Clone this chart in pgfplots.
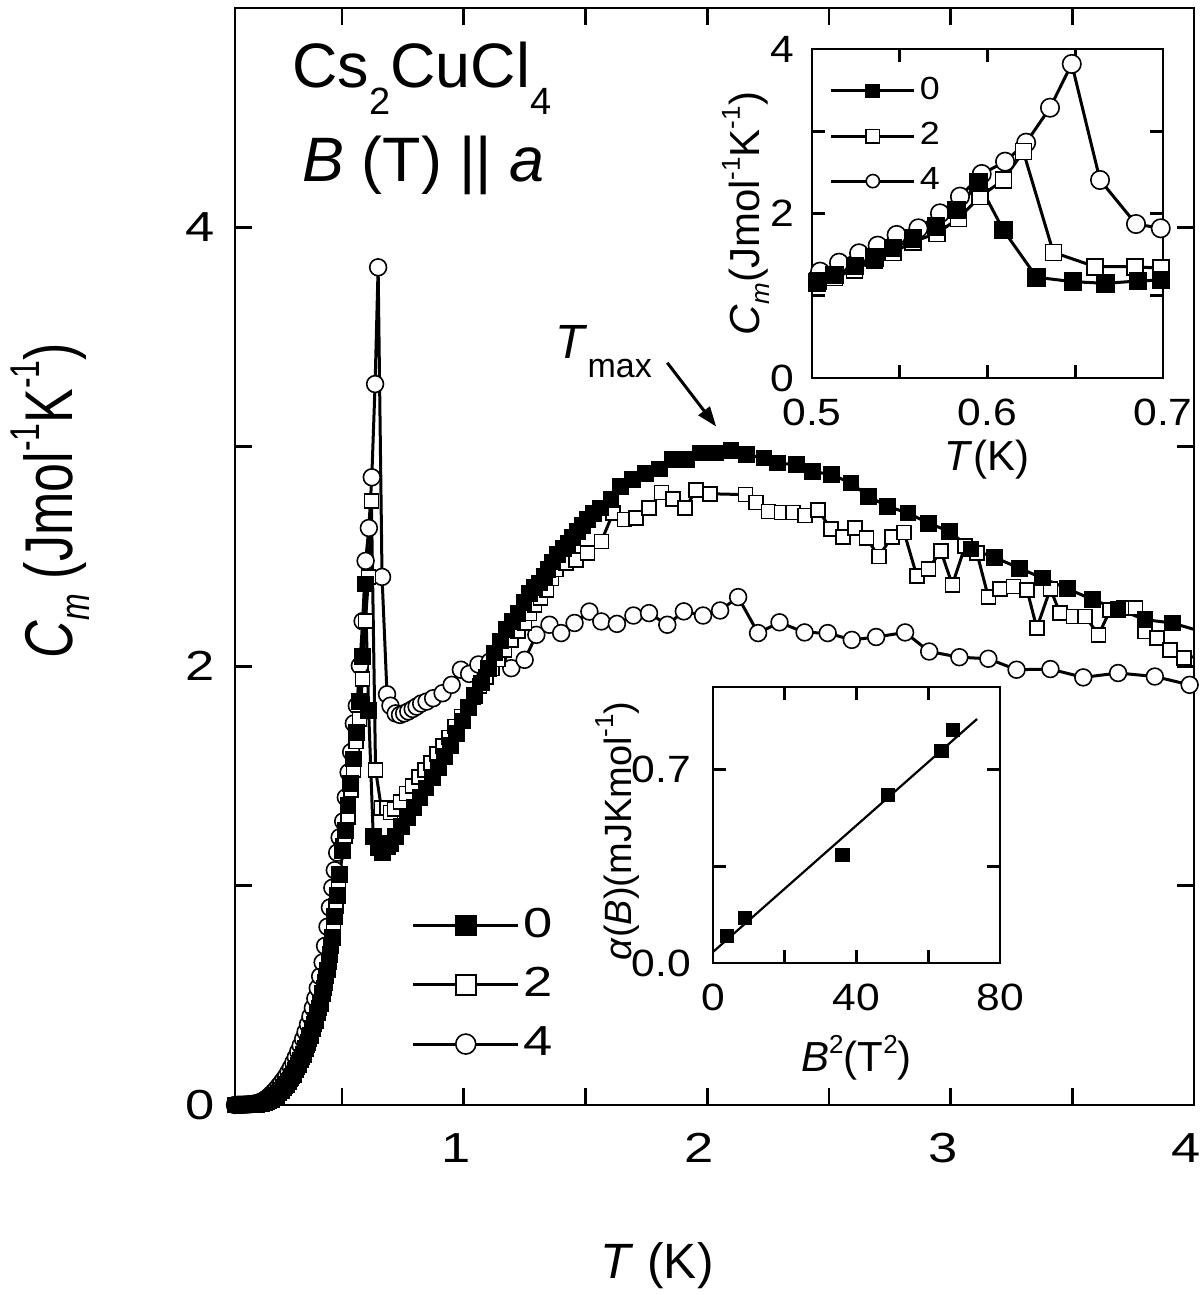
\documentclass[border=0pt]{standalone}
\usepackage{fontspec}
\setmainfont{Liberation Sans}
\usepackage{graphicx}
\usepackage{pgfplots}
\usepackage{pgfplotstable}
\pgfplotsset{compat=1.18}
\usetikzlibrary{arrows.meta}
\newcommand{\W}[1]{\scalebox{1.25}[1]{#1}}
\newcommand{\V}[1]{\scalebox{1.12}[1]{#1}}

\pgfplotstableread{
x y
0.06 0.000
0.07 0.000
0.08 0.000
0.09 0.001
0.10 0.001
0.11 0.001
0.12 0.002
0.13 0.002
0.14 0.003
0.15 0.004
0.16 0.005
0.17 0.007
0.18 0.010
0.19 0.014
0.20 0.019
0.21 0.026
0.22 0.034
0.23 0.044
0.24 0.055
0.25 0.067
0.26 0.080
0.27 0.094
0.28 0.108
0.29 0.123
0.30 0.140
0.31 0.160
0.32 0.182
0.33 0.205
0.34 0.230
0.35 0.257
0.36 0.285
0.37 0.316
0.38 0.350
0.39 0.385
0.40 0.422
0.41 0.463
0.42 0.508
0.43 0.558
0.44 0.615
0.45 0.685
0.46 0.765
0.47 0.860
0.48 0.955
0.49 1.050
0.503 1.159
0.5127 1.252
0.5245 1.365
0.5355 1.467
0.5463 1.577
0.5576 1.698
0.5705 1.840
0.5824 2.043
0.5948 2.375
0.609 1.799
0.628 1.224
0.6486 1.171
0.6673 1.151
0.6856 1.179
0.6987 1.191
0.720 1.225
0.745 1.270
0.770 1.310
0.795 1.355
0.820 1.400
0.845 1.445
0.870 1.490
0.895 1.540
0.920 1.590
0.945 1.640
0.970 1.695
0.995 1.750
1.020 1.810
1.045 1.865
1.073 1.923
1.100 1.990
1.127 2.060
1.150 2.115
1.175 2.166
1.200 2.205
1.223 2.242
1.247 2.290
1.270 2.333
1.290 2.357
1.311 2.379
1.330 2.410
1.346 2.440
1.366 2.475
1.386 2.508
1.408 2.535
1.428 2.561
1.448 2.588
1.468 2.614
1.489 2.641
1.509 2.668
1.533 2.695
1.560 2.721
1.605 2.759
1.645 2.820
1.693 2.850
1.748 2.880
1.804 2.899
1.859 2.941
1.915 2.941
1.971 2.972
2.034 2.972
2.098 2.984
2.161 2.964
2.233 2.949
2.289 2.926
2.368 2.918
2.432 2.888
2.511 2.873
2.591 2.835
2.662 2.774
2.742 2.728
2.825 2.698
2.909 2.652
2.996 2.614
3.084 2.534
3.179 2.497
3.282 2.447
3.377 2.402
3.481 2.353
3.584 2.303
3.688 2.260
3.799 2.212
3.910 2.197
4.006 2.166
}\tblzero

\pgfplotstableread{
x y
0.065 0.000
0.075 0.000
0.085 0.001
0.095 0.001
0.105 0.001
0.115 0.002
0.125 0.002
0.135 0.003
0.145 0.004
0.155 0.005
0.165 0.006
0.175 0.009
0.185 0.012
0.195 0.017
0.205 0.023
0.215 0.030
0.225 0.039
0.235 0.050
0.245 0.061
0.255 0.074
0.265 0.087
0.275 0.101
0.285 0.116
0.295 0.132
0.305 0.150
0.315 0.171
0.325 0.194
0.335 0.218
0.345 0.244
0.355 0.271
0.365 0.300
0.375 0.333
0.385 0.368
0.395 0.404
0.405 0.443
0.415 0.486
0.425 0.533
0.435 0.587
0.445 0.650
0.455 0.725
0.465 0.812
0.475 0.908
0.485 1.002
0.5035 1.180
0.5127 1.224
0.5241 1.313
0.5355 1.435
0.5463 1.528
0.5576 1.657
0.5711 1.759
0.5835 1.941
0.5957 2.205
0.6090 2.407
0.6204 2.752
0.6375 1.528
0.6613 1.353
0.6841 1.353
0.6987 1.334
0.715 1.350
0.740 1.380
0.765 1.420
0.790 1.455
0.815 1.495
0.840 1.528
0.865 1.560
0.890 1.600
0.915 1.635
0.940 1.675
0.965 1.725
0.990 1.770
1.015 1.815
1.040 1.860
1.065 1.910
1.090 1.950
1.115 1.990
1.140 2.030
1.168 2.075
1.195 2.120
1.222 2.160
1.250 2.197
1.270 2.240
1.291 2.280
1.315 2.310
1.339 2.348
1.360 2.400
1.380 2.440
1.420 2.470
1.462 2.485
1.509 2.516
1.565 2.569
1.613 2.698
1.661 2.668
1.708 2.675
1.761 2.721
1.812 2.792
1.860 2.762
1.910 2.721
1.955 2.804
2.011 2.786
2.158 2.782
2.201 2.747
2.252 2.706
2.305 2.701
2.352 2.701
2.403 2.686
2.456 2.713
2.508 2.625
2.559 2.589
2.607 2.630
2.654 2.584
2.705 2.500
2.758 2.589
2.809 2.610
2.861 2.412
2.909 2.443
2.960 2.526
3.007 2.371
3.060 2.549
3.108 2.516
3.155 2.315
3.203 2.353
3.259 2.364
3.314 2.348
3.354 2.174
3.410 2.353
3.449 2.242
3.505 2.227
3.553 2.227
3.608 2.143
3.656 2.257
3.712 2.265
3.759 2.265
3.799 2.158
3.847 2.128
3.902 2.075
3.958 2.037
4.006 2.044
}\tbltwo

\pgfplotstableread{
x y
0.06 0.000
0.07 0.001
0.08 0.001
0.09 0.001
0.10 0.002
0.11 0.0025
0.12 0.0035
0.13 0.0045
0.14 0.006
0.15 0.0085
0.16 0.012
0.17 0.0165
0.18 0.0225
0.19 0.030
0.20 0.039
0.21 0.0495
0.22 0.061
0.23 0.0735
0.24 0.087
0.25 0.101
0.26 0.1155
0.27 0.1315
0.28 0.150
0.29 0.171
0.30 0.1935
0.31 0.2175
0.32 0.2435
0.33 0.271
0.34 0.3005
0.35 0.333
0.36 0.3675
0.37 0.4035
0.38 0.4425
0.39 0.4855
0.40 0.533
0.41 0.5865
0.42 0.650
0.43 0.725
0.44 0.8125
0.45 0.900
0.46 0.990
0.47 1.070
0.48 1.150
0.49 1.220
0.5046 1.293
0.5154 1.402
0.5268 1.516
0.5374 1.609
0.5482 1.739
0.5606 1.820
0.5729 2.002
0.5843 2.205
0.5967 2.480
0.6100 2.630
0.6220 2.861
0.6356 3.286
0.6480 3.818
0.6641 2.407
0.6846 1.872
0.6987 1.820
0.7200 1.785
0.7380 1.778
0.7550 1.785
0.7720 1.794
0.7900 1.805
0.8060 1.816
0.8250 1.830
0.8470 1.839
0.8740 1.854
0.9130 1.877
0.9500 1.915
0.9880 1.984
1.0220 1.965
1.0600 2.008
1.1070 2.021
1.1480 2.060
1.1950 1.991
1.2500 2.029
1.2980 2.143
1.3520 2.189
1.4000 2.151
1.4550 2.197
1.5160 2.249
1.5650 2.204
1.6290 2.193
1.6970 2.231
1.7610 2.242
1.8360 2.189
1.9040 2.250
1.9830 2.231
2.0530 2.254
2.1270 2.315
2.2090 2.151
2.2970 2.200
2.4000 2.154
2.4950 2.151
2.5940 2.120
2.6940 2.133
2.8130 2.154
2.9120 2.067
3.0360 2.041
3.1550 2.034
3.2710 1.984
3.4100 1.987
3.5450 1.949
3.6880 1.969
3.8390 1.953
3.9820 1.915
}\tblfour

\pgfplotsset{
  /pgf/number format/assume math mode=true,
  myframe/.style={
    scale only axis,
    axis line style={line width=0.7pt},
    tick style={line width=0.7pt, black},
  },
  sfour/.style={black, line width=0.75pt, mark=*, mark options={solid, fill=white, line width=0.4pt}},
  stwo/.style={black, line width=0.75pt, mark=square*, mark options={solid, fill=white, line width=0.4pt}},
  szero/.style={black, line width=0.75pt, mark=square*, mark options={solid, fill=black, line width=0.4pt}},
}

\begin{document}
\begin{tikzpicture}
\begin{axis}[
  myframe,
  name=main,
  at={(0pt,0pt)}, anchor=south west,
  width=239.75pt, height=274.25pt,
  xmin=0.06, xmax=4, ymin=0, ymax=5,
  major tick length=4.25pt,
  xtick={0.5,1,1.5,2,2.5,3,3.5,4}, xticklabels={,\W{1},,\W{2},,\W{3},,\W{4}},
  ytick={0,1,2,3,4}, yticklabels={\W{0},,\W{2},,\W{4}},
  ticklabel style={font=\fontsize{10.5}{12}\selectfont},
  xticklabel style={yshift=-3.5pt, xshift=-2pt},
  yticklabel style={xshift=-1.5pt},
  xlabel={\textit{T} (K)},
  xlabel style={at={(axis description cs:0.44,-0.146)}, anchor=center, font=\fontsize{12.4}{14}\selectfont},
  ylabel={\scalebox{1}[1.3]{\textit{C}\raisebox{-3.2pt}{\fontsize{8}{8}\selectfont\textit{m}} (Jmol\raisebox{6.5pt}{\fontsize{8}{8}\selectfont -1}K\raisebox{6.5pt}{\fontsize{8}{8}\selectfont -1})}},
  ylabel style={at={(axis description cs:-0.193,0.551)}, anchor=center, font=\fontsize{13}{15}\selectfont},
  legend style={at={(axis cs:0.783,0.92)}, anchor=north west, draw=none, fill=none,
    font=\fontsize{10.5}{12}\selectfont, row sep=4.0pt, inner sep=0pt, nodes={inner sep=1pt}},
  legend image code/.code={\draw[mark repeat=2,mark phase=2,mark size=2.5pt] plot coordinates {(0pt,0pt) (13.125pt,0pt) (26.25pt,0pt)};},
  legend cell align=left,
  reverse legend,
]
\addplot[sfour, mark size=2.1pt] table[x=x,y=y] {\tblfour};
\addlegendentry{\W{4}}
\addplot[stwo, mark size=1.75pt] table[x=x,y=y] {\tbltwo};
\addlegendentry{\W{2}}
\addplot[szero, mark size=1.9pt] table[x=x,y=y] {\tblzero};
\addlegendentry{\W{0}}

\node[anchor=base, inner sep=0pt, font=\fontsize{15.7}{18}\selectfont] at (axis cs:0.828,4.637)
  {Cs\raisebox{-6.75pt}{\fontsize{9.5}{10}\selectfont 2}CuCl\raisebox{-6.75pt}{\fontsize{9.5}{10}\selectfont 4}};
\node[anchor=base, inner sep=0pt, font=\fontsize{15.7}{18}\selectfont] at (axis cs:0.835,4.209)
  {\textit{B} (T) || \textit{a}};
\node[anchor=base west, inner sep=0pt] at (axis cs:1.373,3.402)
  {\fontsize{12}{14}\selectfont\textit{T}\raisebox{-4.75pt}{\fontsize{8.5}{10}\selectfont max}};
\draw[-{Triangle[length=5pt,width=3.5pt]}, line width=0.75pt] (axis cs:1.836,3.383) -- (axis cs:2.037,3.092);
\end{axis}

% inset 1
\begin{axis}[
  myframe,
  at={(144.25pt,181.75pt)}, anchor=south west,
  width=87.75pt, height=82.25pt,
  axis background/.style={fill=white},
  xmin=0.5, xmax=0.7, ymin=0, ymax=4,
  major tick length=3.3pt,
  xtick={0.5,0.55,0.6,0.65,0.7}, xticklabels={\V{0.5},,\V{0.6},,\V{0.7}},
  ytick={0,1,2,3,4}, yticklabels={\V{0},,\V{2},,\V{4}},
  ticklabel style={font=\fontsize{9.5}{11}\selectfont},
  xticklabel style={yshift=-1.8pt},
  yticklabel style={xshift=-1pt},
  xlabel={\textit{T}(K)},
  xlabel style={at={(axis description cs:0.4986,-0.249)}, anchor=center, font=\fontsize{10.5}{12}\selectfont},
  ylabel={\textit{C}\raisebox{-2.5pt}{\fontsize{6.5}{7}\selectfont\textit{m}}(Jmol\raisebox{5pt}{\fontsize{6.5}{7}\selectfont -1}K\raisebox{5pt}{\fontsize{6.5}{7}\selectfont -1})},
  ylabel style={at={(axis description cs:-0.188,0.5)}, anchor=center, font=\fontsize{10.5}{12}\selectfont},
  legend style={at={(axis cs:0.5097,3.72)}, anchor=north west, draw=none, fill=none,
    font=\fontsize{8}{9}\selectfont, row sep=2.2pt, inner sep=0pt, nodes={inner sep=1pt}},
  legend image code/.code={\draw[mark repeat=2,mark phase=2,mark size=1.65pt] plot coordinates {(0pt,0pt) (10.375pt,0pt) (20.75pt,0pt)};},
  legend cell align=left,
  reverse legend,
]
\addplot[sfour, mark size=2.3pt] table[x=x,y=y] {\tblfour};
\addlegendentry{\V{4}}
\addplot[stwo, mark size=2pt] table[x=x,y=y] {\tbltwo};
\addlegendentry{\V{2}}
\addplot[szero, mark size=2.1pt] table[x=x,y=y] {\tblzero};
\addlegendentry{\V{0}}
\end{axis}

% inset 2
\begin{axis}[
  myframe,
  at={(119.5pt,35.5pt)}, anchor=south west,
  width=71.75pt, height=69pt,
  axis background/.style={fill=white},
  xmin=0, xmax=80, ymin=0, ymax=1.0,
  major tick length=3.3pt,
  xtick={0,20,40,60,80}, xticklabels={\V{0},,\V{40},,\V{80}},
  ytick={0,0.35,0.7}, yticklabels={\V{0.0},,\V{0.7}},
  ticklabel style={font=\fontsize{9.5}{11}\selectfont},
  xticklabel style={yshift=-1.8pt},
  yticklabel style={xshift=-2pt},
  xlabel={\textit{B}\raisebox{4.5pt}{\fontsize{6.5}{7}\selectfont 2}(T\raisebox{4.5pt}{\fontsize{6.5}{7}\selectfont 2})},
  xlabel style={at={(axis description cs:0.5,-0.344)}, anchor=center, font=\fontsize{10.5}{12}\selectfont},
  ylabel={\textit{α}(\textit{B})(mJKmol\raisebox{4.5pt}{\fontsize{6.5}{7}\selectfont -1})},
  ylabel style={at={(axis description cs:-0.3345,0.478)}, anchor=center, font=\fontsize{9.5}{11}\selectfont},
]
\addplot[black, line width=0.55pt] coordinates {(0,0.04) (73.6,0.884)};
\addplot[only marks, mark=square*, mark size=1.65pt, mark options={fill=black}] coordinates {
(3.9,0.098) (8.9,0.163) (36.0,0.391) (48.8,0.609) (63.8,0.768) (66.9,0.844)};
\end{axis}

\pgfresetboundingbox
\path (-58.75pt,-47.5pt) rectangle (241.75pt,276.25pt);
\end{tikzpicture}
\end{document}
